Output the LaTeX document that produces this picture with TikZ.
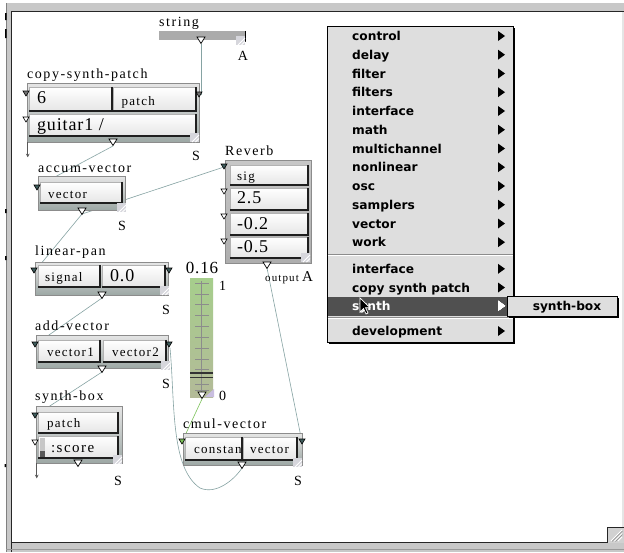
\documentclass[tikz,border=0pt]{standalone}
\usepackage{fontspec}
\setmainfont{Liberation Serif}
\newfontfamily\lblfont[LetterSpace=11]{Liberation Serif}
\newfontfamily\smfont[LetterSpace=10]{Liberation Serif}
\newfontfamily\bigfont[LetterSpace=5]{Liberation Serif}
\newfontfamily\menufont{DejaVu Sans}
\usetikzlibrary{fit,arrows.meta}
\definecolor{wire}{HTML}{86A3A3}
\definecolor{framebot}{HTML}{9DA8A5}
\definecolor{menubg}{HTML}{DEDEDE}
\definecolor{hilite}{HTML}{505050}
\definecolor{inletdark}{HTML}{3E5C5C}
\definecolor{wingray}{HTML}{C8C8C8}
\definecolor{sltop}{HTML}{A6CE8C}
\definecolor{slbot}{HTML}{B3BA98}
\definecolor{greenwire}{HTML}{7CC25A}
\definecolor{lav}{HTML}{C9BEE0}
\definecolor{cornerc}{HTML}{D6D6DC}
\newcommand{\fsm}{\smfont\fontsize{13}{15}\selectfont}
\newcommand{\fbg}{\bigfont\fontsize{18}{20}\selectfont}
\newcommand{\fsc}{\smfont\fontsize{15}{17}\selectfont}
\newcommand{\outl}[2]{\draw[fill=white,draw=black,line width=0.7pt] (#1-4,#2) -- (#1+4,#2) -- (#1,#2+6.5) -- cycle;}
\newcommand{\inl}[3]{\draw[fill=#3,draw=black,line width=0.6pt] (#1-3,#2) -- (#1+3,#2) -- (#1,#2+5) -- cycle;}
\newcommand{\rsz}[2]{\fill[cornerc] (#1,#2) rectangle (#1+9,#2+9); \draw[white,line width=0.8pt] (#1+2,#2+9) -- (#1+9,#2+2) (#1+5.5,#2+9) -- (#1+9,#2+5.5);}
\newcommand{\fld}[9]{%
  \node[field, fit={(#2,#3) (#4,#5)}] (#1) {};
  \draw[fldedge] (#1.north east) -- (#1.south east) -- (#1.south west);
  \node[anchor=base west, inner sep=0pt] (#1-t) at ([xshift=#9pt,yshift=-#8pt]#1.west) {#6#7};
}
\newcommand{\mtri}[2][black]{\fill[#1] (498,#2-9.5) -- (505,#2-4.5) -- (498,#2+0.5) -- cycle;}
\begin{document}
\begin{tikzpicture}[x=1pt,y=-1pt,
  field/.style={inner sep=0pt, draw=black!30, line width=0.4pt, top color=white, bottom color=black!10},
  fldedge/.style={draw=black!88, line width=1.6pt},
  pbox/.style={inner sep=0pt, draw=black!45, line width=0.5pt, top color=black!10, bottom color=framebot},
  lbl/.style={inner sep=0pt, anchor=base west, font=\lblfont\fontsize{14}{16}\selectfont},
  sl/.style={inner sep=0pt, anchor=base, font=\fontsize{14}{16}\selectfont},
  wirel/.style={draw=wire, line width=0.6pt},
  mitem/.style={anchor=base west, inner sep=0pt, font=\menufont\bfseries\fontsize{12.2}{14}\selectfont}]
\useasboundingbox (0,0) rectangle (624,552);
% window
\fill[white] (0,0) rectangle (624,552);
\fill[wingray] (6,3) rectangle (624,552);
\draw[black!50,line width=0.6pt] (6.3,3) -- (6.3,552);
\fill[black!10] (621.5,12) rectangle (624,527);
\fill[white] (12,12) rectangle (621.5,542);
\draw[black!85,line width=1.3pt] (11.4,552) -- (11.4,11.4) -- (624,11.4);
\draw[black!85,line width=1.3pt] (11.4,542.6) -- (607,542.6);
\draw[black!40,line width=0.6pt] (6,549.3) -- (624,549.3);
\fill[black!18] (607,527) rectangle (624,543);
\draw[black!85,line width=1pt] (607,543) -- (607,527) -- (624,527);
\draw[white,line width=0.9pt] (611,541) -- (622,530) (614.5,541) -- (622,533.5) (618,541) -- (622,537);
\draw[black!45,line width=0.5pt] (612,541.5) -- (622.5,531) (615.5,541.5) -- (622.5,534.5);
\fill[black] (5,13) rectangle (6.5,20) (5,29) rectangle (6.5,38) (5,209) rectangle (6.5,213) (5,256) rectangle (6.5,260) (4.5,464) rectangle (6,467);
% anchor points
\coordinate (strout) at (201,44);
\coordinate (csprin) at (201,95);
\coordinate (cspout) at (113,146);
\coordinate (avin) at (38,186);
\coordinate (avout) at (82,214);
\coordinate (lplin) at (35,271);
\coordinate (rvin) at (224,167);
\coordinate (lpout) at (102,298);
\coordinate (addvlin) at (36,344);
\coordinate (addvout) at (102,372);
\coordinate (sblin) at (36,415);
\coordinate (rvout) at (267,268);
\coordinate (cmulrin) at (302,442);
\coordinate (slout) at (202,399);
\coordinate (cmullin) at (182,442);
\coordinate (addvrin) at (170,348);
\coordinate (cmulout) at (242,468);
% wires
\draw[wirel] (strout) -- (csprin);
\draw[wirel] (cspout) -- (avin);
\draw[wirel] (avout) -- (lplin);
\draw[wirel] (avout) -- (rvin);
\draw[wirel] (lpout) -- (addvlin);
\draw[wirel] (addvout) -- (sblin);
\draw[wirel] (rvout) -- (cmulrin);
\draw[draw=greenwire,line width=0.6pt] (slout) -- (cmullin);
\draw[wirel] (addvrin) .. controls (175,400) and (170,468) .. (200,488) .. controls (216,495) and (234,480) .. (cmulout);
% string object
\node[lbl] (strl) at (159,26) {string};
\node[fit={(159,31) (245,40)}, inner sep=0pt, fill=black!33] (strbar) {};
\draw[black,line width=1pt] (strbar.north east) -- ([yshift=-1.5pt]strbar.south east);
\rsz{236}{36}
\outl{201}{37}
\node[sl] (strA) at (243,60) {A};
% boxes
\node[pbox, fit={(27,83) (199,142)}] (csp) {};
\node[pbox, fit={(38,176) (125,210)}] (av) {};
\node[pbox, fit={(225,160) (311,263)}, top color=black!22, bottom color=black!32] (rv) {};
\node[pbox, fit={(35,262) (168,295)}] (lp) {};
\node[pbox, fit={(36,335) (168,368)}] (addv) {};
\node[pbox, fit={(36,406) (122,463)}] (sb) {};
\node[pbox, fit={(183,433) (302,465)}] (cmul) {};
% fields
\fld{f6}{29}{87}{112}{111}{\fbg}{6}{4}{8}
\fld{fpatch}{113}{87}{196}{111}{\fsm}{patch}{6}{8.5}
\fld{fguit}{29}{114}{196}{136}{\fbg}{guitar1 /}{5}{8}
\fld{fvec}{40}{182}{122}{203}{\fsm}{vector}{6}{8}
\fld{fsig}{230}{165}{308}{185}{\fsm}{sig}{5}{7}
\fld{ftwo}{230}{188}{308}{210}{\fbg}{2.5}{4}{7}
\fld{fmtwo}{230}{213}{308}{235}{\fbg}{-0.2}{5}{7}
\fld{fmfive}{230}{237}{308}{258}{\fbg}{-0.5}{5}{7}
\fld{fsignal}{38}{265}{100}{287}{\fsm}{signal}{5}{7}
\fld{fzero}{102}{265}{165}{287}{\fbg}{0.0}{5}{8}
\fld{fvone}{38}{340}{100}{362}{\fsm}{vector1}{5}{9}
\fld{fvtwo}{103}{340}{166}{362}{\fsm}{vector2}{5}{9}
\fld{fsbp}{38}{412}{118}{433}{\fsm}{patch}{5}{9}
\fld{fscore}{38}{436}{118}{458}{\fsc}{:score}{5}{13}
\fill[black!22] (40,438) rectangle (45,457);
\fill[black!65] (40,451) rectangle (45,457);
\fld{fconst}{185}{437}{242}{460}{\fsm}{constant}{5}{9}
\fld{fcvec}{243}{437}{297}{460}{\fsm}{vector}{5}{7}
% resize corners
\rsz{190}{133}
\rsz{117}{203}
\rsz{301}{253}
\rsz{160}{286}
\rsz{161}{361}
\rsz{113}{455}
\rsz{293}{458}
% slider
\node[fit={(190,278) (213,397)}, inner sep=0pt, top color=sltop, bottom color=slbot] (slider) {};
\draw[black!45,line width=0.6pt] (201.5,281) -- (201.5,393);
\foreach \ty in {283,294,304,315,326,337,348,359,369,384,390}
  \draw[black!45,line width=0.6pt] (195,\ty) -- (209,\ty);
\draw[black!80,line width=1.4pt] (190,373) -- (213,373) (190,377.5) -- (213,377.5);
\fill[lav] (205,397) -- (214,397) -- (214,389) -- cycle;
\node[inner sep=0pt, anchor=base, font=\bigfont\fontsize{17}{19}\selectfont] (slval) at (202,273) {0.16};
\node[inner sep=0pt, anchor=base west, font=\fontsize{14}{16}\selectfont] (slmax) at (219,290) {1};
\node[inner sep=0pt, anchor=base west, font=\fontsize{14}{16}\selectfont] (slmin) at (219,400) {0};
% inlets
\inl{26}{91}{black!55}
\inl{26}{117}{white}
\inl{199}{92}{black!55}
\inl{37}{185}{inletdark}
\inl{224}{164}{inletdark}
\inl{224}{189}{white}
\inl{224}{214}{white}
\inl{224}{239}{white}
\inl{34}{268}{inletdark}
\inl{169}{268}{inletdark}
\inl{35}{342}{inletdark}
\inl{169}{342}{inletdark}
\inl{35}{413}{inletdark}
\inl{35}{440}{white}
\inl{182}{439}{greenwire}
\inl{302}{439}{inletdark}
% outlets
\outl{113}{139}
\outl{82}{208}
\outl{267}{262}
\outl{102}{292}
\outl{102}{366}
\outl{202}{392}
\outl{78}{460}
\outl{242}{462}
% down arrows
\draw[black!65,line width=0.6pt,-{Stealth[length=3.5pt,width=3.5pt]}] ([xshift=1pt]csp.south west) -- ++(0,15);
\draw[black!65,line width=0.6pt,-{Stealth[length=3.5pt,width=3.5pt]}] ([xshift=1pt]sb.south west) -- ++(0,15);
% labels
\node[lbl] (cspl) at (27,78) {copy-synth-patch};
\node[lbl] (avl) at (38,172) {accum-vector};
\node[lbl] (rvl) at (225,155) {Reverb};
\node[lbl] (lpl) at (35,255) {linear-pan};
\node[lbl] (addvl) at (35,330) {add-vector};
\node[lbl] (sbl) at (35,400) {synth-box};
\node[lbl] (cmull) at (183,428) {cmul-vector};
\node[sl] (cspS) at (196,160) {S};
\node[sl] (avS) at (122,230) {S};
\node[sl] (lpS) at (166,314) {S};
\node[sl] (addvS) at (166,388) {S};
\node[sl] (sbS) at (118,485) {S};
\node[sl] (cmulS) at (298,485) {S};
\node[inner sep=0pt, anchor=base west, font=\smfont\fontsize{11}{12}\selectfont] (rvout-l) at (265,281) {output};
\node[inner sep=0pt, anchor=base west, font=\fontsize{15}{16}\selectfont] (rvA) at (302,281) {A};
% menu
\fill[black] (329,28) rectangle (515,344);
\node[fit={(327,26) (513,342)}, inner sep=0pt, fill=menubg, draw=black, line width=0.8pt] (menu) {};
\fill[hilite] (327.5,296.5) rectangle (512.5,315.5);
\draw[black!45,line width=0.8pt] (327.5,254.5) -- (512.5,254.5);
\draw[white,line width=0.8pt] (327.5,255.5) -- (512.5,255.5);
\draw[black!45,line width=0.8pt] (327.5,317.5) -- (512.5,317.5);
\draw[white,line width=0.8pt] (327.5,318.5) -- (512.5,318.5);
\node[mitem] (m1) at (352,40.5) {control};
\node[mitem] (m2) at (352,59.2) {delay};
\node[mitem] (m3) at (352,78) {filter};
\node[mitem] (m4) at (352,96.7) {filters};
\node[mitem] (m5) at (352,115.5) {interface};
\node[mitem] (m6) at (352,134.2) {math};
\node[mitem] (m7) at (352,153) {multichannel};
\node[mitem] (m8) at (352,171.7) {nonlinear};
\node[mitem] (m9) at (352,190.5) {osc};
\node[mitem] (m10) at (352,209.2) {samplers};
\node[mitem] (m11) at (352,228) {vector};
\node[mitem] (m12) at (352,246.7) {work};
\node[mitem] (m13) at (352,273.3) {interface};
\node[mitem] (m14) at (352,292) {copy synth patch};
\node[mitem, text=white] (m15) at (352,310.3) {synth};
\node[mitem] (m16) at (352,335.5) {development};
\foreach \yb in {40.5,59.2,78,96.7,115.5,134.2,153,171.7,190.5,209.2,228,246.7,273.3,292,335.5}
  \mtri{\yb}
\mtri[white]{310.3}
% submenu
\fill[black] (509,298) rectangle (619,318);
\node[fit={(507,296) (617,316)}, inner sep=0pt, fill=menubg, draw=black, line width=0.8pt] (sub) {};
\node[mitem, anchor=base] (sub1) at (567,310.3) {synth-box};
% cursor
\draw[fill=black, draw=white, line width=0.7pt, line join=miter] (360,298) -- (360,312) -- (363.5,308.5) -- (366,314) -- (368,313) -- (365.5,307.7) -- (370,307.7) -- cycle;
\end{tikzpicture}
\end{document}
